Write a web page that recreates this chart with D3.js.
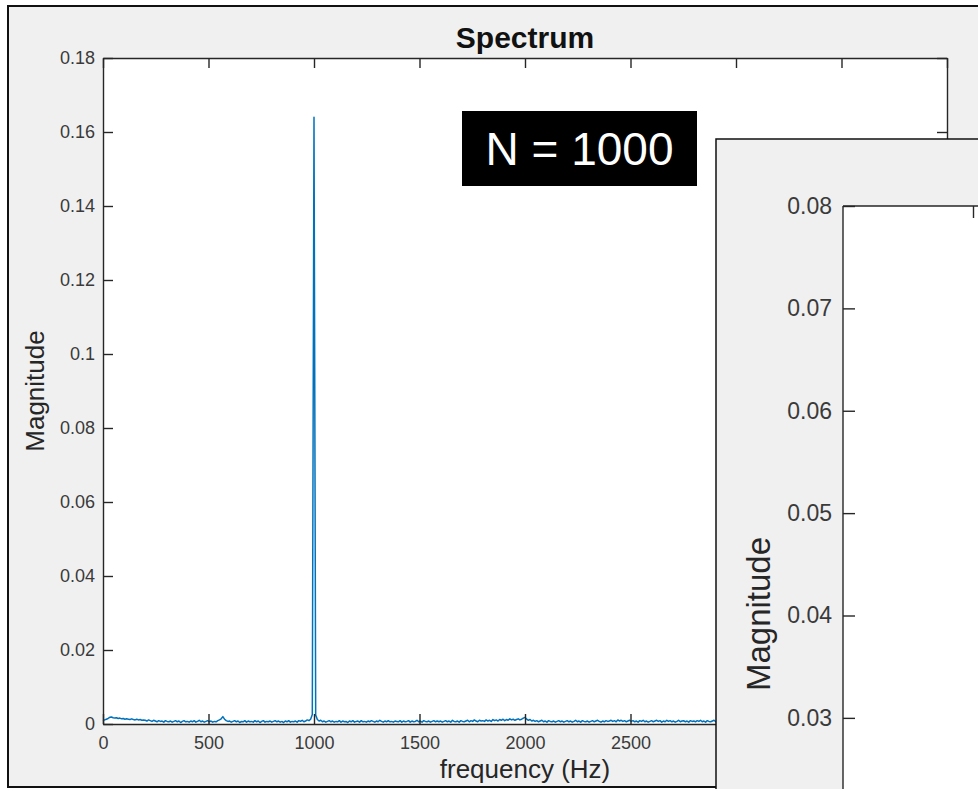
<!DOCTYPE html>
<html>
<head>
<meta charset="utf-8">
<script src="https://cdn.jsdelivr.net/npm/d3@7"></script>
<style>
  body { margin: 0; background: #ffffff; }
  svg { display: block; }
  text { font-family: "Liberation Sans", Arial, Helvetica, sans-serif; }
</style>
</head>
<body>
<svg id="chart" width="978" height="789"></svg>
<script>
// FFT bin spacing (Hz) and the single-sided magnitude spectrum, one value per bin from 0 Hz to 4000 Hz
const binHz = 8;
const magnitude = [
  0.0009, 0.0011, 0.0013, 0.0015, 0.0018, 0.0019, 0.0017, 0.0016, 0.0017, 0.0015, 0.0016, 0.0014, 0.0015, 0.0013, 0.0014, 0.0013, 0.0012, 0.0014, 0.0012, 0.0011, 0.0013, 0.0011, 0.0012, 0.0010, 0.0011,
  0.0010, 0.0008, 0.0011, 0.0009, 0.0007, 0.0010, 0.0008, 0.0006, 0.0009, 0.0007, 0.0008, 0.0005, 0.0009, 0.0007, 0.0006, 0.0008, 0.0005, 0.0007, 0.0009, 0.0006, 0.0008, 0.0004, 0.0007, 0.0009, 0.0006,
  0.0007, 0.0005, 0.0008, 0.0006, 0.0009, 0.0005, 0.0007, 0.0010, 0.0006, 0.0008, 0.0005, 0.0007, 0.0009, 0.0006, 0.0008, 0.0005, 0.0007, 0.0006, 0.0009, 0.0011, 0.0014, 0.0020, 0.0013, 0.0009, 0.0007,
  0.0008, 0.0005, 0.0007, 0.0009, 0.0006, 0.0008, 0.0004, 0.0007, 0.0006, 0.0009, 0.0005, 0.0008, 0.0006, 0.0007, 0.0005, 0.0009, 0.0006, 0.0008, 0.0004, 0.0007, 0.0009, 0.0005, 0.0007, 0.0006, 0.0008,
  0.0005, 0.0007, 0.0009, 0.0006, 0.0008, 0.0005, 0.0007, 0.0004, 0.0008, 0.0006, 0.0009, 0.0005, 0.0007, 0.0006, 0.0008, 0.0005, 0.0009, 0.0007, 0.0010, 0.0006, 0.0008, 0.0011, 0.0009, 0.0013, 0.0026,
  0.1640, 0.0024, 0.0012, 0.0008, 0.0010, 0.0006, 0.0008, 0.0005, 0.0007, 0.0009, 0.0006, 0.0008, 0.0005, 0.0007, 0.0006, 0.0009, 0.0005, 0.0008, 0.0006, 0.0007, 0.0004, 0.0008, 0.0006, 0.0009, 0.0005,
  0.0007, 0.0008, 0.0005, 0.0009, 0.0006, 0.0007, 0.0005, 0.0008, 0.0006, 0.0009, 0.0007, 0.0005, 0.0008, 0.0006, 0.0010, 0.0007, 0.0005, 0.0008, 0.0006, 0.0009, 0.0006, 0.0007, 0.0005, 0.0008, 0.0007,
  0.0006, 0.0009, 0.0005, 0.0008, 0.0006, 0.0007, 0.0009, 0.0005, 0.0008, 0.0006, 0.0007, 0.0010, 0.0006, 0.0008, 0.0005, 0.0009, 0.0007, 0.0006, 0.0008, 0.0005, 0.0007, 0.0009, 0.0006, 0.0008, 0.0006,
  0.0008, 0.0005, 0.0007, 0.0009, 0.0006, 0.0008, 0.0005, 0.0010, 0.0007, 0.0006, 0.0008, 0.0005, 0.0009, 0.0007, 0.0006, 0.0008, 0.0010, 0.0006, 0.0009, 0.0007, 0.0011, 0.0008, 0.0006, 0.0010, 0.0008,
  0.0009, 0.0007, 0.0011, 0.0008, 0.0010, 0.0007, 0.0012, 0.0009, 0.0011, 0.0008, 0.0012, 0.0010, 0.0013, 0.0009, 0.0012, 0.0010, 0.0014, 0.0011, 0.0013, 0.0010, 0.0012, 0.0014, 0.0011, 0.0013, 0.0016,
  0.0018, 0.0013, 0.0010, 0.0012, 0.0008, 0.0010, 0.0007, 0.0009, 0.0006, 0.0008, 0.0010, 0.0006, 0.0008, 0.0005, 0.0009, 0.0007, 0.0006, 0.0008, 0.0005, 0.0007, 0.0009, 0.0006, 0.0008, 0.0005, 0.0007,
  0.0009, 0.0006, 0.0008, 0.0005, 0.0007, 0.0010, 0.0006, 0.0008, 0.0005, 0.0009, 0.0007, 0.0006, 0.0008, 0.0005, 0.0007, 0.0009, 0.0006, 0.0008, 0.0010, 0.0007, 0.0005, 0.0008, 0.0006, 0.0009, 0.0007,
  0.0008, 0.0010, 0.0007, 0.0009, 0.0006, 0.0011, 0.0008, 0.0010, 0.0007, 0.0009, 0.0006, 0.0008, 0.0010, 0.0007, 0.0009, 0.0006, 0.0008, 0.0005, 0.0009, 0.0007, 0.0010, 0.0006, 0.0008, 0.0005, 0.0007,
  0.0009, 0.0006, 0.0008, 0.0010, 0.0007, 0.0009, 0.0005, 0.0008, 0.0006, 0.0010, 0.0007, 0.0009, 0.0006, 0.0008, 0.0005, 0.0007, 0.0010, 0.0006, 0.0008, 0.0009, 0.0006, 0.0008, 0.0005, 0.0009, 0.0007,
  0.0008, 0.0006, 0.0009, 0.0007, 0.0010, 0.0006, 0.0008, 0.0005, 0.0009, 0.0007, 0.0006, 0.0008, 0.0010, 0.0006, 0.0008, 0.0005, 0.0007, 0.0009, 0.0006, 0.0008, 0.0005, 0.0007, 0.0009, 0.0006, 0.0008,
  0.0007, 0.0009, 0.0006, 0.0008, 0.0005, 0.0010, 0.0007, 0.0006, 0.0008, 0.0005, 0.0009, 0.0007, 0.0006, 0.0008, 0.0010, 0.0006, 0.0008, 0.0005, 0.0007, 0.0009, 0.0006, 0.0008, 0.0005, 0.0007, 0.0009,
  0.0006, 0.0008, 0.0005, 0.0009, 0.0007, 0.0006, 0.0008, 0.0010, 0.0006, 0.0008, 0.0005, 0.0007, 0.0009, 0.0006, 0.0008, 0.0005, 0.0007, 0.0010, 0.0006, 0.0008, 0.0005, 0.0009, 0.0007, 0.0006, 0.0008,
  0.0005, 0.0007, 0.0009, 0.0006, 0.0008, 0.0005, 0.0010, 0.0007, 0.0006, 0.0008, 0.0009, 0.0005, 0.0007, 0.0006, 0.0008, 0.0010, 0.0006, 0.0008, 0.0005, 0.0007, 0.0009, 0.0006, 0.0008, 0.0005, 0.0007,
  0.0009, 0.0006, 0.0008, 0.0005, 0.0007, 0.0009, 0.0006, 0.0008, 0.0010, 0.0007, 0.0005, 0.0008, 0.0006, 0.0009, 0.0007, 0.0006, 0.0008, 0.0005, 0.0009, 0.0007, 0.0006, 0.0008, 0.0010, 0.0006, 0.0008,
  0.0005, 0.0007, 0.0009, 0.0006, 0.0008, 0.0005, 0.0007, 0.0010, 0.0006, 0.0008, 0.0005, 0.0009, 0.0007, 0.0006, 0.0008, 0.0005, 0.0007, 0.0009, 0.0006, 0.0008, 0.0010, 0.0007, 0.0005, 0.0008, 0.0006,
  0.0007
];
const freqHz = magnitude.map((_, i) => i * binHz);

// Tick values and labels
const xTicks = [0, 500, 1000, 1500, 2000, 2500, 3000, 3500, 4000];
const yTicks = [0, 0.02, 0.04, 0.06, 0.08, 0.1, 0.12, 0.14, 0.16, 0.18];
const yTickLabels = ["0", "0.02", "0.04", "0.06", "0.08", "0.1", "0.12", "0.14", "0.16", "0.18"];
const zoomYTicks = [0.03, 0.04, 0.05, 0.06, 0.07, 0.08];
const zoomYTickLabels = ["0.03", "0.04", "0.05", "0.06", "0.07", "0.08"];
const zoomXTicks = [500];

const titleText = "Spectrum";
const xLabelText = "frequency (Hz)";
const yLabelText = "Magnitude";
const annotationText = "N = 1000";

const axisColor = "#262626";
const labelColor = "#3a3a3a";
const lineColor = "#0072BD";
const figureGrey = "#f0f0f0";

const svg = d3.select("#chart");

// ---------- main figure window ----------
svg.append("rect")
  .attr("x", 8).attr("y", 6)
  .attr("width", 1000).attr("height", 781)
  .attr("fill", figureGrey)
  .attr("stroke", "#111").attr("stroke-width", 2);

const plot = { left: 103, top: 58, right: 947, bottom: 724 };
const x = d3.scaleLinear().domain([0, 4000]).range([plot.left, plot.right]);
const y = d3.scaleLinear().domain([0, 0.18]).range([plot.bottom, plot.top]);

svg.append("rect")
  .attr("x", plot.left).attr("y", plot.top)
  .attr("width", plot.right - plot.left).attr("height", plot.bottom - plot.top)
  .attr("fill", "#ffffff");

const series = freqHz.map((f, i) => ({ f, m: magnitude[i] }));
svg.append("path")
  .datum(series)
  .attr("fill", "none")
  .attr("stroke", lineColor)
  .attr("stroke-width", 1.5)
  .attr("stroke-linejoin", "round")
  .attr("d", d3.line().x(d => x(d.f)).y(d => y(d.m)));

function styleAxis(g, fontSize) {
  g.selectAll(".domain").attr("stroke", axisColor).attr("stroke-width", 1.4);
  g.selectAll(".tick line").attr("stroke", axisColor).attr("stroke-width", 1.4);
  g.selectAll(".tick text").attr("fill", labelColor)
    .style("font-size", fontSize + "px")
    .style("font-family", '"Liberation Sans", Arial, Helvetica, sans-serif');
}

svg.append("g")
  .attr("transform", `translate(0,${plot.bottom})`)
  .call(d3.axisBottom(x).tickValues(xTicks).tickFormat(d3.format("d"))
    .tickSizeInner(-10).tickSizeOuter(0).tickPadding(12))
  .call(g => styleAxis(g, 18));

svg.append("g")
  .attr("transform", `translate(0,${plot.top})`)
  .call(d3.axisTop(x).tickValues(xTicks).tickFormat("")
    .tickSizeInner(-10).tickSizeOuter(0))
  .call(g => styleAxis(g, 18));

svg.append("g")
  .attr("transform", `translate(${plot.left},0)`)
  .call(d3.axisLeft(y).tickValues(yTicks).tickFormat((d, i) => yTickLabels[i])
    .tickSizeInner(-10).tickSizeOuter(0).tickPadding(8))
  .call(g => styleAxis(g, 18));

svg.append("g")
  .attr("transform", `translate(${plot.right},0)`)
  .call(d3.axisRight(y).tickValues(yTicks).tickFormat("")
    .tickSizeInner(-10).tickSizeOuter(0))
  .call(g => styleAxis(g, 18));

svg.append("text")
  .attr("x", (plot.left + plot.right) / 2).attr("y", 48)
  .attr("text-anchor", "middle")
  .attr("fill", "#111")
  .style("font-size", "30px").style("font-weight", "bold")
  .text(titleText);

svg.append("text")
  .attr("x", (plot.left + plot.right) / 2).attr("y", 778)
  .attr("text-anchor", "middle")
  .attr("fill", axisColor)
  .style("font-size", "26px")
  .text(xLabelText);

svg.append("text")
  .attr("transform", `translate(44,${(plot.top + plot.bottom) / 2}) rotate(-90)`)
  .attr("text-anchor", "middle")
  .attr("fill", axisColor)
  .style("font-size", "26px")
  .text(yLabelText);

// sample-count annotation
const note = svg.append("g").attr("transform", "translate(462,111)");
note.append("rect").attr("width", 235).attr("height", 75).attr("fill", "#000");
note.append("text")
  .attr("x", 117.5).attr("y", 54)
  .attr("text-anchor", "middle")
  .attr("fill", "#fff")
  .style("font-size", "46px")
  .text(annotationText);

// ---------- second (zoomed) figure window, overlapping ----------
const win2 = { left: 716, top: 139 };
svg.append("rect")
  .attr("x", win2.left).attr("y", win2.top)
  .attr("width", 400).attr("height", 800)
  .attr("fill", figureGrey)
  .attr("stroke", "#111").attr("stroke-width", 1.5);

const plot2 = { left: 843, top: 206 };
const y2 = d3.scaleLinear().domain([0, 0.08]).range([plot2.top + 819, plot2.top]);
const x2 = d3.scaleLinear().domain([0, 4000]).range([plot2.left, plot2.left + 1040]);

svg.append("rect")
  .attr("x", plot2.left).attr("y", plot2.top)
  .attr("width", 300).attr("height", 700)
  .attr("fill", "#ffffff");

svg.append("g")
  .attr("transform", `translate(${plot2.left},0)`)
  .call(d3.axisLeft(y2).tickValues(zoomYTicks).tickFormat((d, i) => zoomYTickLabels[i])
    .tickSizeInner(-12).tickSizeOuter(0).tickPadding(11))
  .call(g => styleAxis(g, 23))
  .call(g => g.select(".domain").attr("d", `M0,${plot2.top}V900`));

svg.append("g")
  .attr("transform", `translate(0,${plot2.top})`)
  .call(d3.axisTop(x2).tickValues(zoomXTicks).tickFormat("")
    .tickSizeInner(-12).tickSizeOuter(0))
  .call(g => styleAxis(g, 23))
  .call(g => g.select(".domain").attr("d", `M${plot2.left},0H1000`));

svg.append("text")
  .attr("transform", `translate(770,614) rotate(-90)`)
  .attr("text-anchor", "middle")
  .attr("fill", axisColor)
  .style("font-size", "33px")
  .text(yLabelText);
</script>
</body>
</html>
